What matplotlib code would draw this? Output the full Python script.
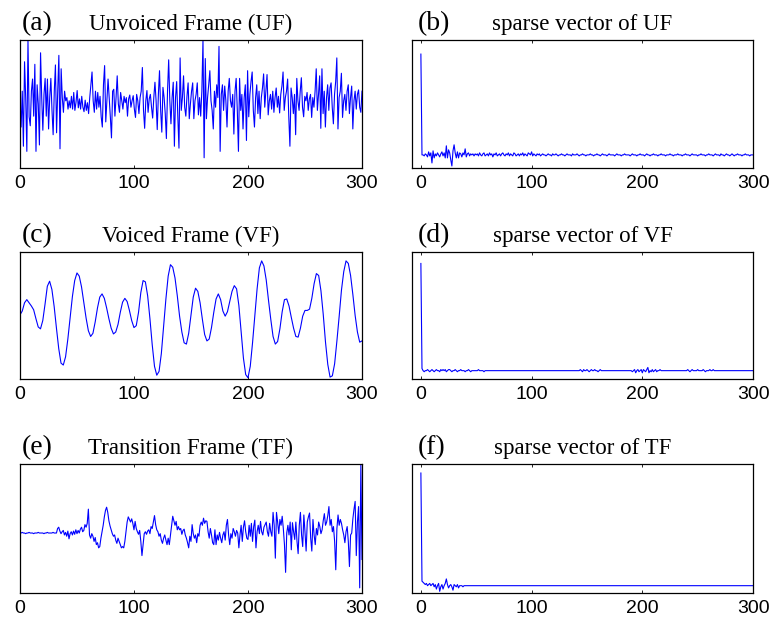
import matplotlib
matplotlib.use('Agg')

import matplotlib.pyplot as plt
import numpy as np

plt.rcParams['font.family'] = ['Liberation Sans', 'DejaVu Sans']

# unvoiced frame, one value per sample
unvoiced = [
    10, -36, 20, -66, 66, 10, -74, 100, -20, -34,
    20, 39, -19, 62, -74, 30, 0, -64, 80, 10,
    -41, 15, 40, -19, 39, -39, 10, 40, -10, -48,
    20, 61, -45, 20, 76, -70, 55, 10, -13, 20,
    5, 10, -8, 5, -6, 12, -8, 18, -10, 3,
    21, -6, 8, -8, 12, -5, -12, 6, -10, 2,
    -15, 10, 30, 50, 5, -13, 20, -8, 18, -5,
    12, -20, -36, 30, 60, -28, 5, 39, 10, -20,
    -53, 20, 23, -19, 10, 44, 0, -13, 18, 5,
    -8, 12, 2, 10, -19, 8, 14, -5, 5, 13,
    -8, -21, 15, 5, -15, 10, 20, 57, -10, -38,
    5, 21, -13, 8, 15, -5, -22, 10, 34, 5,
    -40, 15, 52, -10, -44, 26, 10, -15, -54, 20,
    69, 5, -31, 10, 34, -66, 10, 35, -20, -69,
    72, -10, 10, 44, -5, -19, 12, 33, -23, 0,
    20, 33, -23, 5, 15, 33, -17, 10, -19, 20,
    100, -84, 71, -23, 10, 30, 52, 5, -10, -39,
    20, -5, 30, 10, 90, -74, 15, 30, -10, 28,
    5, -36, 20, 40, 5, -5, 15, -47, 20, 40,
    -10, -74, 40, -10, 15, -39, 10, 30, -57, 52,
    -20, 15, 35, 50, -10, -36, 10, 30, -15, 20,
    -23, 10, 25, 47, -5, 20, 46, -17, 5, 15,
    -8, 20, -13, 10, 25, -5, 12, -14, 15, 28,
    50, -10, 10, 20, 39, -20, -66, 25, 10, -15,
    15, -48, 40, 5, -10, 20, 41, -5, -20, 12,
    5, 18, -10, 8, 15, -21, 10, -5, 20, 55,
    -10, 15, 44, -38, 55, -15, 20, -36, 10, 30,
    -10, 25, 33, -5, -31, 15, 35, 72, -39, 10,
    20, 48, -21, 5, 15, -10, 20, 30, -15, 10,
    28, -39, 5, 20, -8, 15, 22, -5, -13, 20,
]

# voiced frame, read every 2 samples
voiced = [
    1, 7, 20, 25, 20, 15, 9, -5, -18, -21,
    -8, 18, 46, 54, 41, 14, -20, -52, -75, -78,
    -65, -37, -3, 30, 55, 67, 62, 45, 21, -4,
    -24, -33, -28, -10, 12, 29, 34, 27, 12, -5,
    -20, -29, -26, -14, 5, 21, 27, 22, 8, -8,
    -19, -16, 5, 36, 55, 53, 31, -5, -46, -80,
    -94, -88, -60, -18, 26, 62, 80, 76, 59, 31,
    -1, -26, -43, -45, -28, 1, 29, 43, 38, 20,
    -6, -30, -40, -37, -19, 5, 26, 34, 25, 7,
    -1, 6, 22, 38, 47, 42, 16, -26, -67, -93,
    -98, -80, -43, -1, 42, 75, 86, 78, 56, 24,
    -6, -33, -45, -41, -21, 6, 25, 26, 15, -3,
    -20, -33, -34, -20, -1, 8, 8, 10, 27, 50,
    66, 63, 39, 2, -42, -77, -97, -95, -76, -40,
    -1, 40, 69, 86, 82, 63, 33, 0, -26, -42,
    -40,
]

# transition frame, one value per sample
transition = [
    -7, -7, -6, -7, -7, -8, -7, -7, -6, -7,
    -7, -7, -8, -7, -7, -7, -6, -7, -7, -7,
    -7, -8, -7, -7, -6, -7, -7, -7, -7, -6,
    -7, -7, -7, 0, 2, -4, -8, -5, -3, -10,
    -6, -12, -4, -16, -8, -5, -10, -4, -9, -2,
    -8, -3, -7, -1, 2, -5, -3, 6, 2, 8,
    30, -10, -15, -8, -12, -20, -14, -25, -22, -30,
    -28, -15, -5, 5, 18, 28, 33, 25, 12, 4,
    -2, -8, -12, -10, -18, -23, -15, -20, -25, -30,
    -28, -30, -20, -5, 10, 18, 14, 10, 15, 8,
    -2, 11, 0, -5, -9, -3, -20, -42, -25, -8,
    -5, -9, -4, -2, -8, 3, 0, 10, 20, 6,
    -2, -5, -12, -8, -18, -23, -15, -10, -18, -25,
    -15, -25, -10, 5, 19, 12, 5, 11, -2, 3,
    -2, 0, -9, -3, -1, -10, -15, -22, -30, -12,
    -20, 6, -8, -15, -10, -22, -8, -12, 5, 10,
    5, 16, 8, 12, 11, -5, -15, 0, -10, -22,
    -25, -2, -25, -10, -18, -6, -15, -22, -10, -5,
    -18, 5, 14, -10, -25, -8, -15, 0, -5, -12,
    -3, -7, -30, -10, 5, -20, 2, 12, -5, -15,
    -17, 5, -12, 8, -20, 3, 13, -30, -5, 5,
    -8, 11, -5, -10, 2, 6, 10, -5, -12, 8,
    -5, -12, 25, 5, -46, 25, 10, -8, 14, 5,
    19, 0, -25, -68, -7, 5, -10, 10, -33, 9,
    -5, -17, 10, -20, -39, 5, 25, -10, -28, 21,
    -5, -35, 10, 18, 24, -15, -35, 14, -10, -25,
    0, -10, 10, 3, -8, -2, 12, 23, 5, 10,
    20, 34, 5, 14, -5, 3, -20, -64, 0, 21,
    5, 14, 8, -2, -10, -22, -5, 3, -20, -59,
    -10, -7, 15, 30, 42, -42, 10, 34, -92, 99,
    -48,
]

# sparse vectors (spike = 100)
sparse_uf = [
    100, 0, 0, -1, 1, 0, -2, 3, -1, 2,
    -8, 4, -3, 1, -1, 2, 0, -2, 1, 3,
    -1, 2, -3, 9, -3, 5, 2, -5, -11, 4,
    10, 2, -3, 3, -3, 2, 1, -2, 2, 0,
    6, -2, 1, 2, -1, 1, 0, 1, -1, 1,
    0, 1, -1, 2, 0, -1, 1, 2, -1, 0,
    1, -1, 2, 0, 1, -2, 1, 0, 2, -1,
    0, 1, -1, 1, 2, 0, -1, 1, 0, 2,
    -1, 1, 0, -1, 2, 1, -1, 0, 1, -1,
    1, 0, 2, -1, 1, 0, -1, 2, 1, 0,
    3, -1, 1, 0, -1, 1, 0, 1, -1, 0,
    1, 0, 0, -1, 0, 1, 0, 0, -1, 1,
    0, 0, 1, 0, -1, 0, 0, 1, 0, 0,
    -1, 0, 1, 0, 0, 0, -1, 1, 0, 0,
    0, 1, 0, -1, 0, 0, 1, 0, 0, -1,
    0, 0, 0, 1, 0, 0, -1, 0, 0, 1,
    0, 0, -1, 0, 1, 0, 0, 0, -1, 0,
    1, 0, 0, 0, 0, -1, 0, 1, 0, 0,
    0, -1, 0, 0, 1, 0, 0, 0, 0, -1,
    0, 1, 0, 0, 0, -1, 0, 0, 1, 0,
    0, 0, -1, 0, 1, 0, 0, -1, 0, 0,
    1, 0, 0, 0, -1, 0, 0, 1, 0, 0,
    0, -1, 0, 0, 0, 1, 0, 0, -1, 0,
    0, 0, 1, 0, 0, 0, -1, 0, 0, 1,
    0, 0, 0, -1, 0, 1, 0, 0, 0, 0,
    -1, 0, 0, 1, 0, 0, 0, -1, 0, 0,
    1, 0, 0, 0, -1, 0, 1, 0, 0, 0,
    -1, 1, 0, 0, -1, 0, 1, 0, 0, -1,
    0, 1, 0, -1, 0, 0, 1, 0, 0, 0,
    -1, 0, 0, 1, 0, 0, 0, -1, 0, 0,
    0,
]

sparse_vf = [
    100, 2, 0, -1, 0, 0, 1, 0, -1, 0,
    1, 0, -1, 0, 1, 0, 0, -1, 1, 0,
    1, 0, 1, -1, 0, 1, 1, 0, -1, 0,
    0, 1, 0, -1, 0, 0, 1, 0, 0, 0,
    -1, 0, 0, 1, 0, -1, 0, 0, 0, 0,
    0, 0, 1, 0, 0, 0, 0, -1, 0, 0,
    0, 0, 0, 0, 0, 0, 0, 0, 0, 0,
    0, 0, 0, 0, 0, 0, 0, 0, 0, 0,
    0, 0, 0, 0, 0, 0, 0, 0, 0, 0,
    0, 0, 0, 0, 0, 0, 0, 0, 0, 0,
    0, 0, 0, 0, 0, 0, 0, 0, 0, 0,
    0, 0, 0, 0, 0, 0, 0, 0, 0, 0,
    0, 0, 0, 0, 0, 0, 0, 0, 0, 0,
    0, 0, 0, 0, 0, 0, 0, 0, 0, 0,
    0, 0, 0, 0, 1, 0, -1, 1, 0, 0,
    1, 0, -1, 0, 1, 0, 0, 1, 0, 0,
    -1, 0, 1, 0, 0, 0, 0, 0, 0, 0,
    0, 0, 0, 0, 0, 0, 0, 0, 0, 0,
    0, 0, 0, 0, 0, 0, 0, 0, 0, 0,
    0, -1, 0, 1, -2, 0, 1, -1, 0, 1,
    -2, 1, 0, -1, 1, 3, -2, 0, -1, 1,
    -1, 0, 1, -1, 0, 0, 1, 0, 0, 0,
    0, 0, 0, 0, 0, 0, 0, 0, 0, 0,
    0, 0, 0, 0, 0, 0, 0, 0, 0, 0,
    0, 1, 0, -1, 0, 1, 0, 0, 0, 0,
    1, 0, 0, 0, 0, 1, 0, -1, 0, 0,
    0, 1, 0, 0, 1, 0, 0, 0, 0, 0,
    0, 0, 0, 0, 0, 0, 0, 0, 0, 0,
    0, 0, 0, 0, 0, 0, 0, 0, 0, 0,
    0, 0, 0, 0, 0, 0, 0, 0, 0, 0,
    0,
]

sparse_tf = [
    100, 4, 3, 2, 1, 2, 0, 1, 2, 0,
    1, 2, -1, 1, -3, 0, 2, -5, -1, 1,
    -3, 0, 2, 6, 1, -2, 0, 1, -1, -4,
    1, 0, -1, 1, -2, 0, 0, 0, -1, 0,
] + [0] * 261

x_ticks = [0, 100, 200, 300]

labels = ['(a)', '(b)', '(c)', '(d)', '(e)', '(f)']
titles = ['Unvoiced Frame (UF)', 'sparse vector of UF',
          'Voiced Frame (VF)', 'sparse vector of VF',
          'Transition Frame (TF)', 'sparse vector of TF']
series = [unvoiced, sparse_uf, voiced, sparse_vf, transition, sparse_tf]
ylims = [(-100, 100), (-13, 114), (-100, 100), (-7.8, 110.7),
         (-100, 100), (-6.5, 108)]

# axes boxes in figure fractions
col_left = [0.0259, 0.5344]
col_width = [0.4436, 0.4423]
row_bottom = [0.7286, 0.3877, 0.0420]
row_height = [0.2068, 0.2052, 0.2084]

fig = plt.figure(figsize=(7.71, 6.19), dpi=100)

for i in range(6):
    r, c = i // 2, i % 2
    ax = fig.add_axes([col_left[c], row_bottom[r], col_width[c], row_height[r]])
    y = np.array(series[i], dtype=float)
    if c == 0:
        x = np.linspace(0, 300, len(y))
        ax.set_xlim(0, 300)
    else:
        x = np.arange(len(y))
        ax.set_xlim(-8, 300)
    ax.plot(x, y, color='#0000ff', linewidth=0.8)
    ax.set_ylim(*ylims[i])
    ax.set_xticks(x_ticks)
    ax.set_yticks([])
    ax.tick_params(axis='x', direction='in', top=True, length=2.5,
                   width=0.6, pad=5, labelsize=14)
    for sp in ax.spines.values():
        sp.set_linewidth(0.9)
    ax.set_title(titles[i], family='Liberation Serif', fontsize=16.5, pad=7.5)
    ax.text(0.006 if c == 0 else 0.018, 1.08, labels[i], transform=ax.transAxes,
            family='Liberation Serif', fontsize=20, va='baseline', ha='left')

plt.savefig('out.png', dpi=100)
